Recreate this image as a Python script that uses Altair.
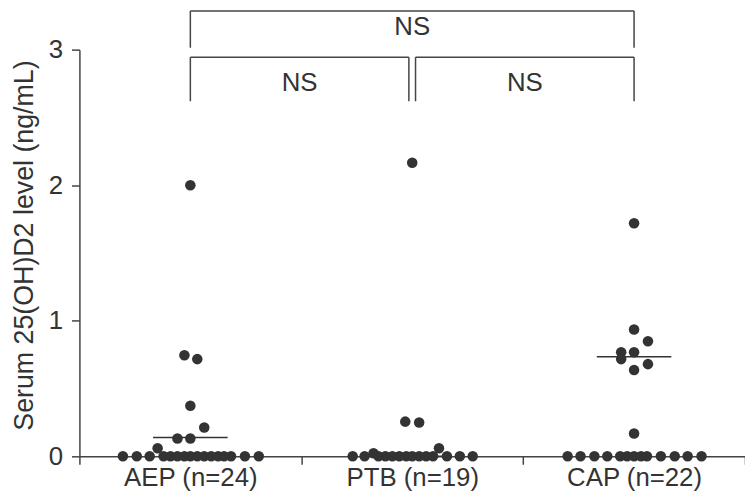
import altair as alt
import pandas as pd

# ---------------- data ----------------
groups = ["AEP (n=24)", "PTB (n=19)", "CAP (n=22)"]

aep_values = [2.00, 0.746, 0.717, 0.373, 0.212, 0.132, 0.132, 0.059] + [0.0] * 16
aep_jitter = [0, -6, 7, 0, 14, -13, 0, -33,
              -68, -54, -41, -27, -20, -13, -6, 0, 7, 14, 21, 28, 34, 41, 55, 69]

ptb_values = [2.165, 0.256, 0.249, 0.059, 0.022] + [0.0] * 14
ptb_jitter = [0, -7, 7, 27, -39,
              -60, -48, -34, -27, -20, -13, -6, 0, 7, 14, 21, 35, 48, 61]

cap_values = [1.719, 0.936, 0.849, 0.768, 0.768, 0.717, 0.680, 0.636, 0.168] + [0.0] * 13
cap_jitter = [0, 0, 14, -13, 0, -13, 14, 0, 0,
              -67, -54, -40, -27, -14, -7, 0, 7, 13, 27, 41, 54, 68]

medians = [0.139, 0.0, 0.734]

# significance brackets
bracket_x1 = [0.5, 1.515, 0.5]
bracket_x2 = [1.485, 2.5, 2.5]
bracket_top = [2.944, 2.944, 3.285]
bracket_bottom = [2.619, 2.619, 3.014]
bracket_label_y = [2.75, 2.75, 3.165]
bracket_text = ["NS", "NS", "NS"]

GROUP_PX = 671 / 3  # pixel width of one group band (for jitter conversion)

# ---------------- build tables ----------------
rows = []
for gi, (vals, jit) in enumerate([(aep_values, aep_jitter),
                                   (ptb_values, ptb_jitter),
                                   (cap_values, cap_jitter)]):
    for v, j in zip(vals, jit):
        rows.append({"group": groups[gi], "pos": gi + 0.5 + j / GROUP_PX, "value": v})
points = pd.DataFrame(rows)

med = pd.DataFrame({
    "x1": [i + 0.5 - 0.168 for i in range(3)],
    "x2": [i + 0.5 + 0.168 for i in range(3)],
    "m": medians,
})

br = pd.DataFrame({
    "x1": bracket_x1, "x2": bracket_x2,
    "top": bracket_top, "bottom": bracket_bottom,
    "ly": bracket_label_y, "txt": bracket_text,
})
br["xm"] = (br["x1"] + br["x2"]) / 2

INK = "#333333"
LINE = "#444444"
FONT = "Liberation Sans"
FS = 26

label_expr = " : ".join(
    [f"datum.value == {i} ? '{g}'" for i, g in enumerate(groups)]
) + " : ''"

xscale = alt.Scale(domain=[0, 3], nice=False, zero=False)
yscale = alt.Scale(domain=[0, 3], nice=False)

xaxis = alt.Axis(values=[0, 1, 2, 3], labelExpr=label_expr, labelOffset=GROUP_PX / 2,
                 tickSize=8, tickWidth=1.5, domainWidth=1.5, tickColor=LINE, domainColor=LINE,
                 labelFontSize=FS, labelColor=INK, labelFont=FONT, labelPadding=0,
                 labelFlush=False, labelOverlap=False, labelBound=False, grid=False)
yaxis = alt.Axis(values=[0, 1, 2, 3], format="d", tickSize=8, tickWidth=1.5, domainWidth=1.5,
                 tickColor=LINE, domainColor=LINE, labelFontSize=FS, labelColor=INK,
                 labelFont=FONT, labelPadding=9, grid=False,
                 titleFontSize=27, titleFont=FONT, titleFontWeight="normal", titleColor=INK,
                 titleX=-55, titleY=197, titleAlign="center", titleBaseline="middle",
                 titleAngle=270)

median_rules = alt.Chart(med).mark_rule(color=INK, strokeWidth=1.5).encode(
    x=alt.X("x1:Q", scale=xscale, axis=xaxis, title=""),
    x2="x2:Q",
    y=alt.Y("m:Q", scale=yscale, axis=yaxis, title="Serum 25(OH)D2 level (ng/mL)"),
)

dots = alt.Chart(points).mark_circle(size=113, color=INK, opacity=1).encode(
    x=alt.X("pos:Q", scale=xscale),
    y=alt.Y("value:Q", scale=yscale),
)

br_h = alt.Chart(br).mark_rule(color=LINE, strokeWidth=1.5).encode(
    x="x1:Q", x2="x2:Q", y="top:Q")
br_l = alt.Chart(br).mark_rule(color=LINE, strokeWidth=1.5).encode(
    x="x1:Q", y="top:Q", y2="bottom:Q")
br_r = alt.Chart(br).mark_rule(color=LINE, strokeWidth=1.5).encode(
    x="x2:Q", y="top:Q", y2="bottom:Q")
br_t = alt.Chart(br).mark_text(fontSize=FS, font=FONT, color=INK, baseline="middle").encode(
    x="xm:Q", y="ly:Q", text="txt:N")

chart = alt.layer(median_rules, dots, br_h, br_l, br_r, br_t).properties(
    width=671, height=410,
    autosize=alt.AutoSizeParams(type="none"),
    padding={"left": 72, "top": 40, "right": 0, "bottom": 34},
).configure_view(stroke=None)

chart.save("out.html", embed_options={"renderer": "svg", "actions": False})
